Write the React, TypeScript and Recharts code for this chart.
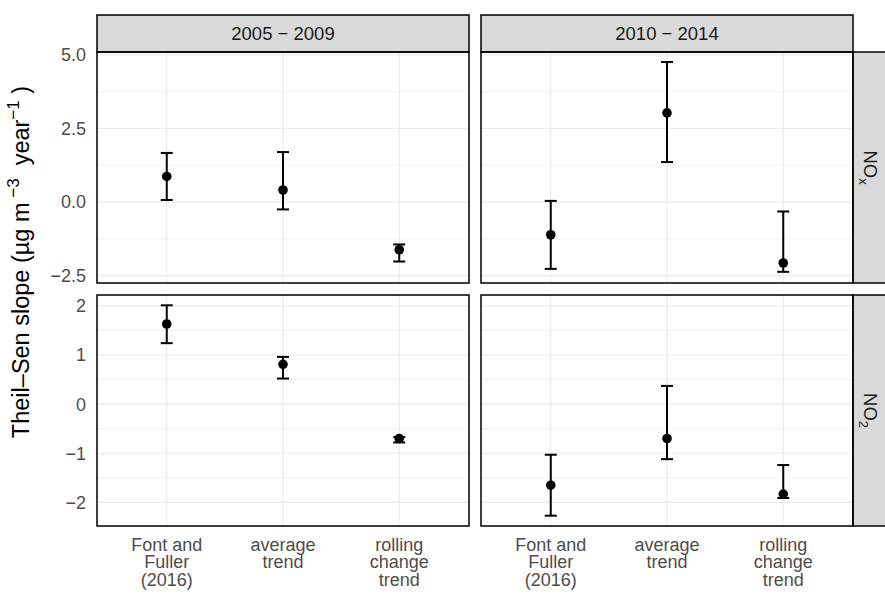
import React from "react"
import {
  ScatterChart,
  Scatter,
  XAxis,
  YAxis,
  CartesianGrid,
  ReferenceLine,
  ErrorBar,
} from "recharts"

// categories on the x axis, split in lines as in the original
const categoryLines = [
  ["Font and", "Fuller", "(2016)"],
  ["average", "trend"],
  ["rolling", "change", "trend"],
]
const periods = ["2005 \u2212 2009", "2010 \u2212 2014"]

// NOx, 2005-2009
const noxEarlyEst = [0.87, 0.41, -1.62]
const noxEarlyLo = [0.07, -0.25, -2.02]
const noxEarlyHi = [1.67, 1.7, -1.44]
// NOx, 2010-2014
const noxLateEst = [-1.11, 3.03, -2.07]
const noxLateLo = [-2.27, 1.36, -2.37]
const noxLateHi = [0.04, 4.76, -0.32]
// NO2, 2005-2009
const no2EarlyEst = [1.63, 0.81, -0.7]
const no2EarlyLo = [1.24, 0.52, -0.78]
const no2EarlyHi = [2.01, 0.96, -0.67]
// NO2, 2010-2014
const no2LateEst = [-1.65, -0.7, -1.83]
const no2LateLo = [-2.27, -1.12, -1.91]
const no2LateHi = [-1.03, 0.37, -1.24]

const noxDomain: [number, number] = [-2.75, 5.1]
const noxMajor = [-2.5, 0, 2.5, 5]
const noxMinor = [-1.25, 1.25, 3.75]
const no2Domain: [number, number] = [-2.48, 2.22]
const no2Major = [-2, -1, 0, 1, 2]
const no2Minor = [-1.5, -0.5, 0.5, 1.5]
const xTicks = [1, 2, 3]

const FONT = '"Liberation Sans", Arial, sans-serif'
const PANEL_W = 372
const PANEL_H = 231
const COL_X = [97, 481]
const ROW_Y = [52, 295]
const STRIP = 37
const PAD = 12 // room so edge tick labels are not clipped
const TICK_COLOR = "#4D4D4D"

const minus = (s: string) => s.replace("-", "\u2212")

function XTick(props: any) {
  const { x, y, payload } = props
  const lines = categoryLines[payload.value - 1] || []
  return (
    <text x={x} y={y} textAnchor="middle" fill={TICK_COLOR} fontSize={18} fontFamily={FONT}>
      {lines.map((l, i) => (
        <tspan key={i} x={x} dy={i === 0 ? 12.8 : 17.5}>
          {l}
        </tspan>
      ))}
    </text>
  )
}

const Dot = (props: any) => <circle cx={props.cx} cy={props.cy} r={4.8} fill="#000" />

interface PanelProps {
  left: number
  top: number
  est: number[]
  lo: number[]
  hi: number[]
  domain: [number, number]
  major: number[]
  minor: number[]
  fmt: (v: number) => string
  showY: boolean
  showX: boolean
}

function Panel({ left, top, est, lo, hi, domain, major, minor, fmt, showY, showX }: PanelProps) {
  const data = est.map((v, i) => ({ x: i + 1, y: v, err: [v - lo[i], hi[i] - v] }))
  const yW = showY ? 60 : 0
  const xH = showX ? 70 : 0
  const bottomPad = showX ? 0 : PAD
  return (
    <div style={{ position: "absolute", left: left - yW, top: top - PAD }}>
      <ScatterChart
        width={PANEL_W + yW}
        height={PANEL_H + xH + PAD + bottomPad}
        margin={{ top: PAD, right: 0, bottom: bottomPad, left: 0 }}
      >
        <CartesianGrid stroke="#EBEBEB" strokeWidth={1.1} />
        {minor.map((v) => (
          <ReferenceLine key={v} y={v} stroke="#EBEBEB" strokeWidth={0.6} />
        ))}
        <XAxis
          type="number"
          dataKey="x"
          domain={[0.4, 3.6]}
          ticks={xTicks}
          interval={0}
          allowDataOverflow
          hide={!showX}
          height={xH}
          axisLine={false}
          tickLine={false}
          tickSize={0}
          tickMargin={12}
          tick={<XTick />}
        />
        <YAxis
          type="number"
          dataKey="y"
          domain={domain}
          ticks={major}
          interval={0}
          allowDataOverflow
          hide={!showY}
          width={yW}
          axisLine={false}
          tickLine={false}
          tickSize={0}
          tickMargin={11}
          tickFormatter={fmt}
          tick={{ fill: TICK_COLOR, fontSize: 18, fontFamily: FONT }}
        />
        <Scatter data={data} dataKey="y" fill="#000" shape={Dot} isAnimationActive={false}>
          <ErrorBar dataKey="err" direction="y" width={6} stroke="#000" strokeWidth={2} />
        </Scatter>
      </ScatterChart>
    </div>
  )
}

const fmtNox = (v: number) => minus(v.toFixed(1))
const fmtNo2 = (v: number) => minus(String(v))

export default function App() {
  return (
    <div
      style={{
        position: "absolute",
        left: 0,
        top: 0,
        width: 885,
        height: 594,
        background: "#fff",
        overflow: "hidden",
        fontFamily: FONT,
      }}
    >
      <Panel left={COL_X[0]} top={ROW_Y[0]} est={noxEarlyEst} lo={noxEarlyLo} hi={noxEarlyHi}
        domain={noxDomain} major={noxMajor} minor={noxMinor} fmt={fmtNox} showY showX={false} />
      <Panel left={COL_X[1]} top={ROW_Y[0]} est={noxLateEst} lo={noxLateLo} hi={noxLateHi}
        domain={noxDomain} major={noxMajor} minor={noxMinor} fmt={fmtNox} showY={false} showX={false} />
      <Panel left={COL_X[0]} top={ROW_Y[1]} est={no2EarlyEst} lo={no2EarlyLo} hi={no2EarlyHi}
        domain={no2Domain} major={no2Major} minor={no2Minor} fmt={fmtNo2} showY showX />
      <Panel left={COL_X[1]} top={ROW_Y[1]} est={no2LateEst} lo={no2LateLo} hi={no2LateHi}
        domain={no2Domain} major={no2Major} minor={no2Minor} fmt={fmtNo2} showY={false} showX />

      {/* strips, panel borders and titles */}
      <svg
        width={885}
        height={594}
        style={{ position: "absolute", left: 0, top: 0, pointerEvents: "none" }}
        fontFamily={FONT}
      >
        {COL_X.map((cx, i) => (
          <g key={"top" + i}>
            <rect x={cx} y={ROW_Y[0] - STRIP} width={PANEL_W} height={STRIP}
              fill="#D9D9D9" stroke="#000" strokeWidth={1.5} />
            <text x={cx + PANEL_W / 2} y={ROW_Y[0] - STRIP / 2} dy="0.35em"
              textAnchor="middle" fontSize={18.5} fill="#1A1A1A">
              {periods[i]}
            </text>
          </g>
        ))}
        {ROW_Y.map((ry, i) => (
          <g key={"side" + i}>
            <rect x={COL_X[1] + PANEL_W} y={ry} width={STRIP} height={PANEL_H}
              fill="#D9D9D9" stroke="#000" strokeWidth={1.5} />
            <text
              transform={`translate(${COL_X[1] + PANEL_W + STRIP / 2 - 1}, ${ry + PANEL_H / 2}) rotate(90)`}
              dy="0.35em" textAnchor="middle" fontSize={18.5} fill="#1A1A1A"
            >
              NO
              <tspan dy={5} fontSize={13}>{i === 0 ? "x" : "2"}</tspan>
            </text>
          </g>
        ))}
        {ROW_Y.map((ry) =>
          COL_X.map((cx) => (
            <rect key={cx + "-" + ry} x={cx} y={ry} width={PANEL_W} height={PANEL_H}
              fill="none" stroke="#000" strokeWidth={1.5} />
          ))
        )}
        <text transform="translate(29, 262) rotate(-90)" textAnchor="middle" fontSize={23.5} fill="#000">
          Theil–Sen slope (µg m
          <tspan dy={-10} fontSize={17}>{"\u00a0\u22123"}</tspan>
          <tspan dy={10}>{"\u00a0 year"}</tspan>
          <tspan dy={-10} fontSize={17}>{"\u22121"}</tspan>
          <tspan dy={10}>{"\u00a0)"}</tspan>
        </text>
      </svg>
    </div>
  )
}
